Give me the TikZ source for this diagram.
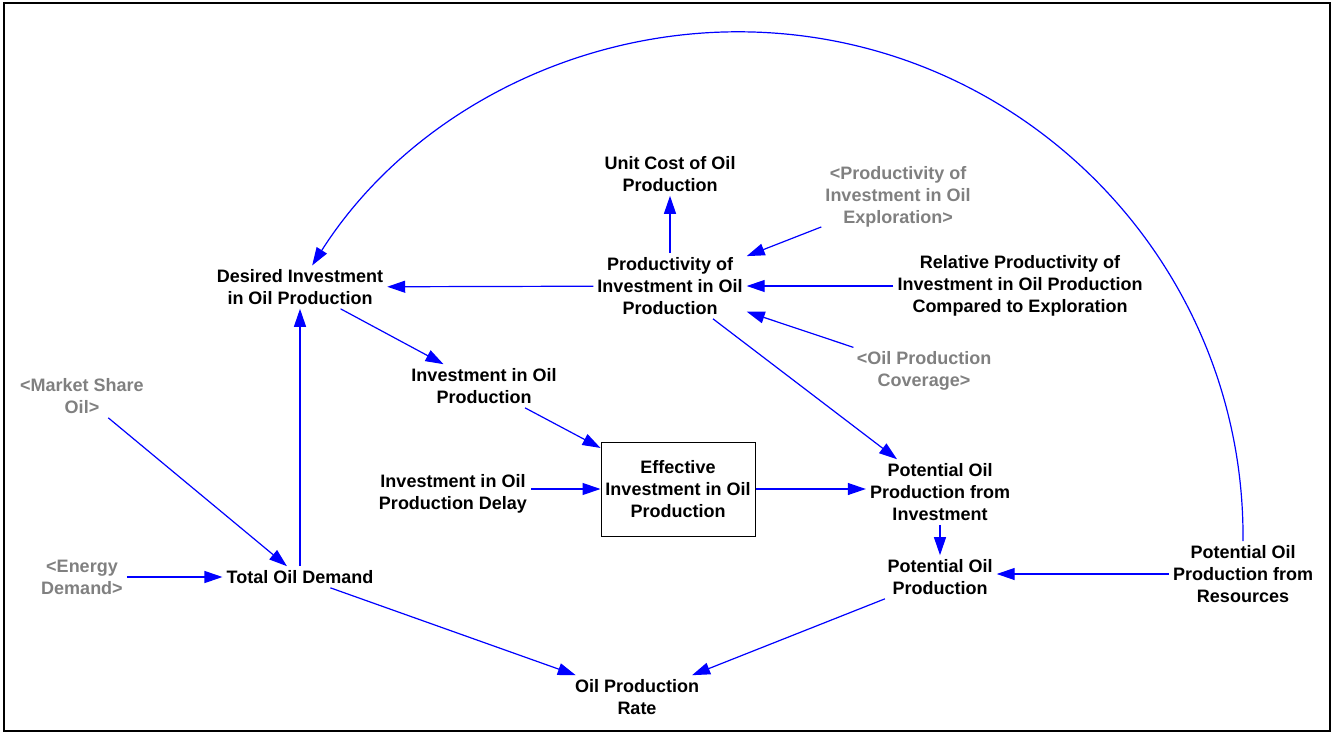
\documentclass[tikz,border=0pt]{standalone}
\usepackage{fontspec}
\setmainfont{Liberation Sans}
\usepackage{tikz}
\usetikzlibrary{arrows.meta}
\definecolor{shadowgray}{RGB}{128,128,128}
\newcommand{\links}{1.2pt}
\newcommand{\inners}{4pt}

\begin{document}
\begin{tikzpicture}[x=1pt,y=-1pt]
    \tikzset{var/.style = {align=center, inner sep=\inners, font=\fontsize{18}{22}\selectfont\bfseries},
             shadow/.style = {var, text=shadowgray},
             level/.style = {var, draw, line width=1pt, minimum width=154pt, minimum height=94pt},
             link/.style = {draw=blue, line width=\links, -{Triangle[length=18pt,width=12pt]}}}
    \useasboundingbox (0,0) rectangle (1335,733);
    \draw[line width=2pt] (4,3) rectangle (1330,731);

    % variables
    \node[var] (des) at (300,287) {Desired Investment\\in Oil Production};
    \node[var] (unit) at (670,174) {Unit Cost of Oil\\Production};
    \node[shadow] (pexp) at (898,197) {<Productivity of\\Investment in Oil\\Exploration>};
    \node[var] (prod) at (670,286) {Productivity of\\Investment in Oil\\Production};
    \node[var] (rel) at (1020,286) {Relative Productivity of\\Investment in Oil Production\\Compared to Exploration};
    \node[shadow] (cov) at (924,371) {<Oil Production\\Coverage>};
    \node[shadow] (mkt) at (82,396) {<Market Share\\Oil>};
    \node[var] (inv) at (484,386) {Investment in Oil\\Production};
    \node[var] (delay) at (453,494) {Investment in Oil\\Production Delay};
    \node[level] (eff) at (678,489) {Effective\\Investment in Oil\\Production};
    \node[var] (pinv) at (940,492) {Potential Oil\\Production from\\Investment};
    \node[var] (pot) at (940,577) {Potential Oil\\Production};
    \node[var] (res) at (1243,574) {Potential Oil\\Production from\\Resources};
    \node[shadow] (nrg) at (82,577) {<Energy\\Demand>};
    \node[var] (tot) at (300,577) {Total Oil Demand};
    \node[var] (rate) at (637,697) {Oil Production\\Rate};

    % links
    \draw[link] (prod) -- (unit);
    \draw[link] (pexp) -- (prod);
    \draw[link] (rel.west) -- (prod.east |- rel.west);
    \draw[link] (cov) -- (prod);
    \draw[link] (prod) -- (des);
    \draw[link] (prod) -- (pinv);
    \draw[link] (des) -- (inv);
    \draw[link] (inv) -- (eff);
    \draw[link] (delay.east |- eff) -- (eff);
    \draw[link] (eff) -- (pinv.west |- eff);
    \draw[link] (pinv) -- (pot);
    \draw[link] (res.west) -- (pot.east |- res.west);
    \draw[link] (pot) -- (rate);
    \draw[link] (tot) -- (rate);
    \draw[link] (nrg) -- (tot);
    \draw[link] (mkt) -- (tot);
    \draw[link] (tot) -- (des);
    \draw[link] (res.north) arc[start angle=0.5, end angle=-147.5, radius=505];
\end{tikzpicture}
\end{document}
